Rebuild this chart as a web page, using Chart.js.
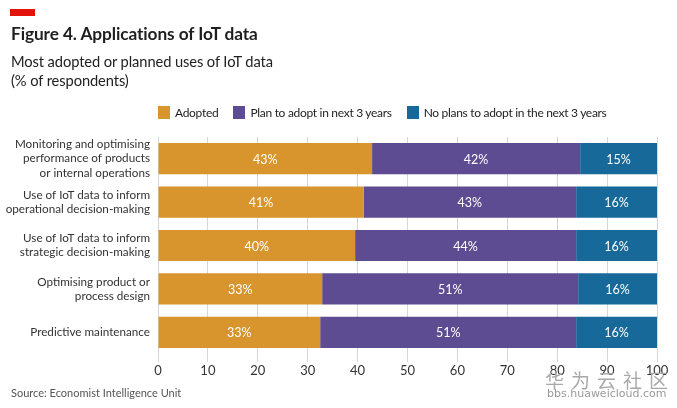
<!DOCTYPE html>
<html>
<head>
<meta charset="utf-8">
<script src="https://cdn.jsdelivr.net/npm/chart.js@4/dist/chart.umd.min.js"></script>
<style>
  html, body { margin: 0; padding: 0; background: #fff; }
  #wrap { position: relative; width: 677px; height: 408px; overflow: hidden; font-family: "Lato", "Noto Sans", sans-serif; color: #222; }
  #chart { position: absolute; left: 0; top: 0; }
  .abs { position: absolute; white-space: nowrap; }
  #redbar { left: 10px; top: 9px; width: 25px; height: 7px; background: #E3120B; }
  #title { left: 11px; top: 23px; font-size: 17.3px; font-weight: 700; color: #1f1f1f; letter-spacing: -0.1px; }
  #subtitle { left: 11px; top: 52px; font-size: 14.7px; line-height: 19px; color: #222; letter-spacing: -0.1px; }
  #legend { left: 158px; top: 105px; font-size: 12px; color: #222; display: flex; letter-spacing: -0.3px; }
  .li { display: flex; align-items: center; margin-right: 15px; }
  .sw { width: 12px; height: 13px; margin-right: 5px; }
  #source { left: 11px; top: 386px; font-size: 11px; color: #555; }
  #wm1 { left: 545px; top: 366px; font-size: 19px; color: #a9a9a9; letter-spacing: 7px; font-family: "Noto Sans CJK SC", sans-serif; }
  #wm2 { left: 547px; top: 387px; font-size: 11px; color: #9a9a9a; font-family: "DejaVu Sans", sans-serif; }
</style>
</head>
<body>
<div id="wrap">
  <canvas id="chart" width="677" height="408"></canvas>
  <div id="redbar" class="abs"></div>
  <div id="title" class="abs">Figure 4. Applications of IoT data</div>
  <div id="subtitle" class="abs">Most adopted or planned uses of IoT data<br>(% of respondents)</div>
  <div id="legend" class="abs"></div>
  <div id="source" class="abs">Source: Economist Intelligence Unit</div>
  <div id="wm1" class="abs">华为云社区</div>
  <div id="wm2" class="abs">bbs.huaweicloud.com</div>
</div>
<script>
const categories = [
  ["Monitoring and optimising", "performance of products", "or internal operations"],
  ["Use of IoT data to inform", "operational decision-making"],
  ["Use of IoT data to inform", "strategic decision-making"],
  ["Optimising product or", "process design"],
  ["Predictive maintenance"]
];
const seriesNames = ["Adopted", "Plan to adopt in next 3 years", "No plans to adopt in the next 3 years"];
const adopted = [42.9, 41.2, 39.5, 32.9, 32.5];
const planned = [41.7, 42.6, 44.3, 51.3, 51.3];
const noPlans = [15.4, 16.2, 16.2, 15.8, 16.2];
const barLabelsAdopted = ["43%", "41%", "40%", "33%", "33%"];
const barLabelsPlanned = ["42%", "43%", "44%", "51%", "51%"];
const barLabelsNoPlans = ["15%", "16%", "16%", "16%", "16%"];
const xTicks = [0, 10, 20, 30, 40, 50, 60, 70, 80, 90, 100];
const colors = ["#D9952D", "#5D4C91", "#17699A"];

const labelPlugin = {
  id: 'barLabels',
  afterDatasetsDraw(chart) {
    const ctx = chart.ctx;
    ctx.save();
    ctx.fillStyle = '#ffffff';
    ctx.font = '12.5px "Lato", sans-serif';
    ctx.textAlign = 'center';
    ctx.textBaseline = 'middle';
    chart.data.datasets.forEach((ds, di) => {
      const meta = chart.getDatasetMeta(di);
      meta.data.forEach((bar, i) => {
        const left = Math.min(bar.x, bar.base);
        const right = Math.max(bar.x, bar.base);
        ctx.fillText(ds.barLabels[i], (left + right) / 2, bar.y + 1);
      });
    });
    ctx.restore();
  }
};

const chart = new Chart(document.getElementById('chart'), {
  type: 'bar',
  data: {
    labels: categories,
    datasets: [
      { label: seriesNames[0], data: adopted, backgroundColor: colors[0], barLabels: barLabelsAdopted },
      { label: seriesNames[1], data: planned, backgroundColor: colors[1], barLabels: barLabelsPlanned },
      { label: seriesNames[2], data: noPlans, backgroundColor: colors[2], barLabels: barLabelsNoPlans }
    ]
  },
  options: {
    indexAxis: 'y',
    responsive: false,
    animation: false,
    devicePixelRatio: 1,
    layout: { padding: { top: 137, left: 0, right: 20, bottom: 0 } },
    datasets: { bar: { barPercentage: 0.72, categoryPercentage: 1.0, borderWidth: 0 } },
    plugins: { legend: { display: false }, tooltip: { enabled: false }, title: { display: false } },
    scales: {
      x: {
        stacked: true, min: 0, max: 100,
        afterBuildTicks(axis) { axis.ticks = xTicks.map(v => ({ value: v })); },
        ticks: { color: '#333', font: { size: 13, family: '"Lato", sans-serif' }, padding: 1 },
        grid: { color: '#d6d6d6', lineWidth: 1, drawTicks: true, tickLength: 8, tickColor: '#d6d6d6' },
        border: { display: false },
        afterFit(axis) { axis.height = 54; }
      },
      y: {
        stacked: true,
        ticks: { autoSkip: false, color: '#333', font: { size: 11.7, family: '"Lato", sans-serif', lineHeight: 1.22 }, padding: 0 },
        grid: { display: false },
        border: { display: false },
        afterFit(axis) { axis.width = 158; }
      }
    }
  },
  plugins: [labelPlugin]
});

// HTML legend built from the chart's datasets
const legendEl = document.getElementById('legend');
chart.data.datasets.forEach(ds => {
  const item = document.createElement('div');
  item.className = 'li';
  const sw = document.createElement('div');
  sw.className = 'sw';
  sw.style.background = ds.backgroundColor;
  const tx = document.createElement('span');
  tx.textContent = ds.label;
  item.appendChild(sw); item.appendChild(tx);
  legendEl.appendChild(item);
});
</script>
</body>
</html>
